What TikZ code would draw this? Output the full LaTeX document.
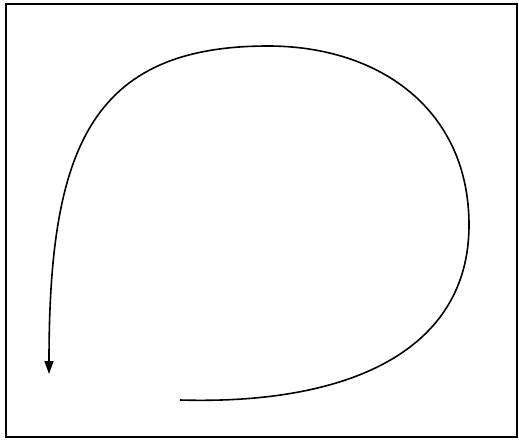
\documentclass[tikz,border=0pt]{standalone}
\usetikzlibrary{arrows.meta}
\begin{document}
\begin{tikzpicture}[x=1pt,y=-1pt,
  frame/.style={line width=1.8pt},
  loopline/.style={line width=1.6pt,-{Triangle[length=13pt,width=9pt]}}]
\useasboundingbox (0,0) rectangle (519,442);
\draw[frame] (6,4) rectangle (517,437);
\coordinate (s) at (180,400);
\coordinate (r) at (469,225);
\coordinate (t) at (268,46);
\coordinate (e) at (49,374);
\draw[loopline] (s) .. controls (350,405) and (469,350) .. (r)
  .. controls (469,110) and (380,46) .. (t)
  .. controls (90,46) and (49,150) .. (e);
\end{tikzpicture}
\end{document}
